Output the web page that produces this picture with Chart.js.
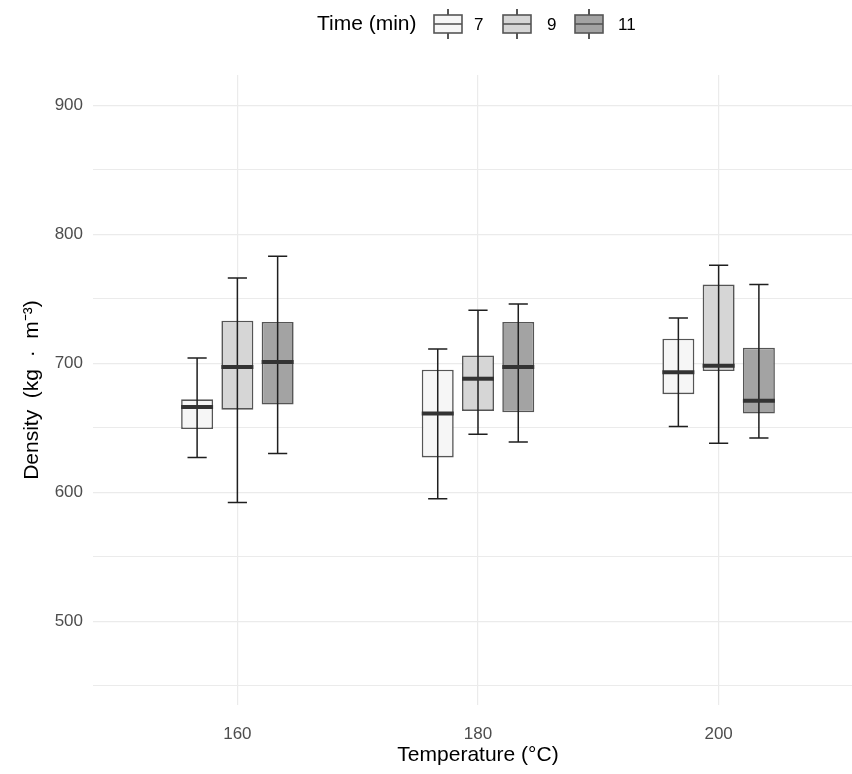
<!DOCTYPE html>
<html>
<head>
<meta charset="utf-8">
<script src="https://cdn.jsdelivr.net/npm/chart.js@4.4.1/dist/chart.umd.min.js"></script>
<style>
  html, body { margin: 0; padding: 0; background: #ffffff; overflow: hidden; }
  #wrap { width: 852px; height: 774px; overflow: hidden; position: relative; }
  #c { position: absolute; left: 0; top: 0; }
</style>
</head>
<body>
<div id="wrap"><canvas id="c" width="863" height="774"></canvas></div>
<script>
// ---- data ----
const categories = ['160', '180', '200'];          // Temperature (°C)
const times = ['7', '9', '11'];                    // Time (min)
const yTicks = [450, 500, 550, 600, 650, 700, 750, 800, 850, 900];

const min7  = [627, 595, 651];
const q1_7  = [649, 627, 676];
const med7  = [666, 661, 693];
const q3_7  = [672, 695, 719];
const max7  = [704, 711, 735];

const min9  = [592, 645, 638];
const q1_9  = [664, 663, 694];
const med9  = [697, 688, 698];
const q3_9  = [733, 706, 761];
const max9  = [766, 741, 776];

const min11 = [630, 639, 642];
const q1_11 = [668, 662, 661];
const med11 = [701, 697, 671];
const q3_11 = [732, 732, 712];
const max11 = [783, 746, 761];

// ---- styles ----
const fills = ['#f6f6f6', '#d6d6d6', '#a3a3a3'];
const boxBorder = '#555555';
const whiskerColor = '#1f1f1f';
const medianColor = '#333333';
const FONT = "'Liberation Sans', Arial, sans-serif";

const series = [
  { min: min7,  q1: q1_7,  med: med7,  q3: q3_7,  max: max7 },
  { min: min9,  q1: q1_9,  med: med9,  q3: q3_9,  max: max9 },
  { min: min11, q1: q1_11, med: med11, q3: q3_11, max: max11 }
];

const datasets = series.map((s, si) => ({
  label: times[si],
  data: categories.map((c, i) => ({ x: i + 1, y: [s.q1[i], s.q3[i]] })),
  backgroundColor: fills[si],
  borderColor: boxBorder,
  borderWidth: 1.6,
  borderSkipped: false,
  categoryPercentage: 0.502,
  barPercentage: 0.794
}));

// whiskers (error bars with caps) and medians, positioned through the scales
const boxExtras = {
  id: 'boxExtras',
  afterDatasetsDraw(chart) {
    const ctx = chart.ctx;
    const y = chart.scales.y;
    const area = chart.chartArea;
    ctx.save();
    ctx.beginPath();
    ctx.rect(area.left, area.top, area.right - area.left, area.bottom - area.top);
    ctx.clip();
    series.forEach((s, si) => {
      const meta = chart.getDatasetMeta(si);
      meta.data.forEach((bar, i) => {
        const cx = bar.x;
        const w = bar.width;
        const capHalf = w * 0.3;
        const yMin = y.getPixelForValue(s.min[i]);
        const yMax = y.getPixelForValue(s.max[i]);
        const yMed = y.getPixelForValue(s.med[i]);
        ctx.strokeStyle = whiskerColor;
        ctx.lineWidth = 1.5;
        ctx.beginPath();
        ctx.moveTo(cx, yMin); ctx.lineTo(cx, yMax);
        ctx.moveTo(cx - capHalf, yMin); ctx.lineTo(cx + capHalf, yMin);
        ctx.moveTo(cx - capHalf, yMax); ctx.lineTo(cx + capHalf, yMax);
        ctx.stroke();
        ctx.strokeStyle = medianColor;
        ctx.lineWidth = 4;
        ctx.beginPath();
        ctx.moveTo(cx - w / 2, yMed); ctx.lineTo(cx + w / 2, yMed);
        ctx.stroke();
      });
    });
    ctx.restore();
  }
};

// legend drawn at the top: "Time (min)" followed by boxplot keys
const topLegend = {
  id: 'topLegend',
  afterDraw(chart) {
    const ctx = chart.ctx;
    ctx.save();
    ctx.fillStyle = '#000000';
    ctx.textBaseline = 'middle';
    ctx.textAlign = 'left';
    ctx.font = '21px ' + FONT;
    const cy = 24;
    ctx.fillText('Time (min)', 317, cy);
    const keyX = [434, 503, 575];
    const labX = [474, 547, 618];
    const kw = 28, kh = 18;
    times.forEach((t, i) => {
      const x0 = keyX[i];
      ctx.strokeStyle = whiskerColor;
      ctx.lineWidth = 1.5;
      ctx.beginPath();
      ctx.moveTo(x0 + kw / 2, cy - 15); ctx.lineTo(x0 + kw / 2, cy + 15);
      ctx.stroke();
      ctx.fillStyle = fills[i];
      ctx.fillRect(x0, cy - kh / 2, kw, kh);
      ctx.strokeStyle = boxBorder;
      ctx.lineWidth = 1.6;
      ctx.strokeRect(x0, cy - kh / 2, kw, kh);
      ctx.beginPath();
      ctx.moveTo(x0, cy); ctx.lineTo(x0 + kw, cy);
      ctx.stroke();
      ctx.fillStyle = '#000000';
      ctx.font = '17px ' + FONT;
      ctx.fillText(t, labX[i], cy + 1);
    });
    ctx.restore();
  }
};

new Chart(document.getElementById('c'), {
  type: 'bar',
  data: { datasets },
  options: {
    responsive: false,
    animation: false,
    devicePixelRatio: 1,
    layout: { padding: { top: 75, right: 0, bottom: 0, left: 0 } },
    plugins: { legend: { display: false }, tooltip: { enabled: false } },
    scales: {
      x: {
        type: 'linear',
        offset: false,
        min: 0.4,
        max: 3.6,
        afterBuildTicks: (scale) => { scale.ticks = categories.map((c, i) => ({ value: i + 1 })); },
        afterFit: (scale) => { scale.height = 69; },
        ticks: {
          autoSkip: false,
          padding: 19,
          color: '#4d4d4d',
          font: { family: FONT, size: 17 },
          callback: (v) => categories[Math.round(v) - 1] || ''
        },
        grid: { offset: false, color: '#ebebeb', lineWidth: 1.2, drawTicks: false },
        border: { display: false },
        title: {
          display: true,
          text: 'Temperature (°C)',
          color: '#000000',
          font: { family: FONT, size: 21 },
          padding: { top: 0, bottom: 6 }
        }
      },
      y: {
        type: 'linear',
        min: 435,
        max: 923.5,
        afterBuildTicks: (scale) => { scale.ticks = yTicks.map(v => ({ value: v })); },
        afterFit: (scale) => { scale.width = 93; },
        ticks: {
          autoSkip: false,
          padding: 10,
          color: '#4d4d4d',
          font: { family: FONT, size: 17 },
          callback: (v) => (v % 100 === 0 ? String(v) : '')
        },
        grid: {
          color: '#ebebeb',
          lineWidth: (c) => (c.tick && c.tick.value % 100 === 0 ? 1.2 : 1),
          drawTicks: false
        },
        border: { display: false },
        title: {
          display: true,
          text: 'Density  (kg  ·  m⁻³)',
          color: '#000000',
          font: { family: FONT, size: 21 },
          padding: { top: 20, bottom: 0 }
        }
      }
    }
  },
  plugins: [boxExtras, topLegend]
});
</script>
</body>
</html>
